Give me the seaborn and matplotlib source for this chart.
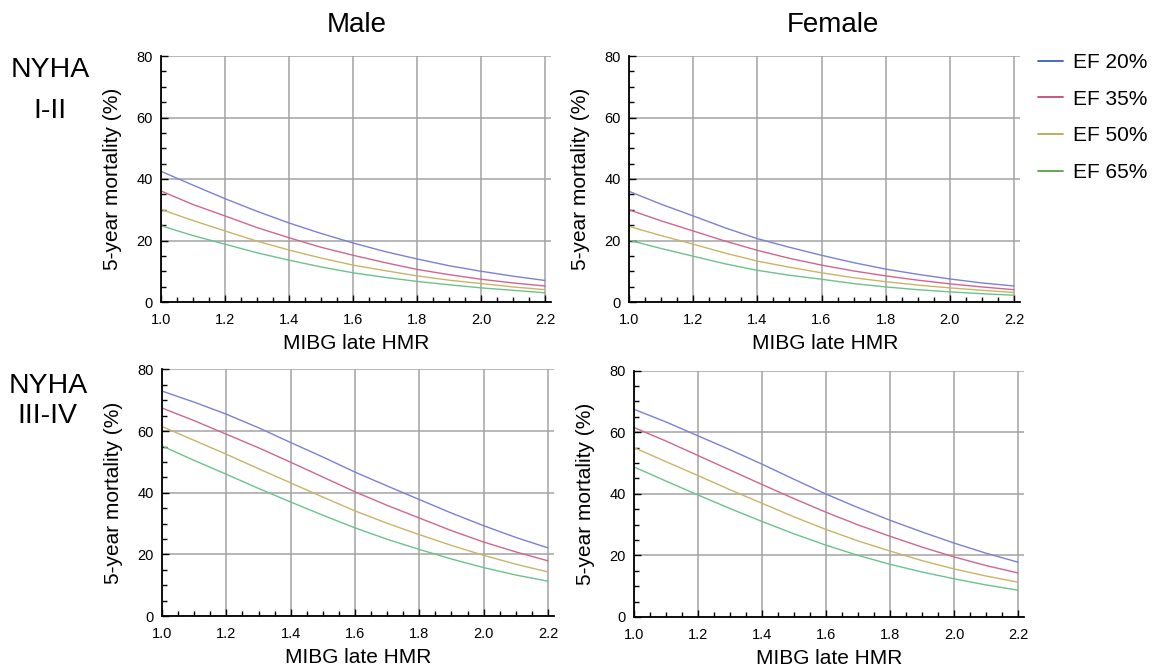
import matplotlib
matplotlib.use("Agg")
import matplotlib.pyplot as plt
import numpy as np
import pandas as pd
import seaborn as sns
from matplotlib.ticker import MultipleLocator, FormatStrFormatter
from matplotlib.lines import Line2D

# ---------------- data ----------------
hmr = [1.0, 1.1, 1.2, 1.3, 1.4, 1.5, 1.6, 1.7, 1.8, 1.9, 2.0, 2.1, 2.2]
ef_labels = ["EF 20%", "EF 35%", "EF 50%", "EF 65%"]
col_titles = ["Male", "Female"]
row_titles = ["NYHA\nI-II", "NYHA\nIII-IV"]

male_12_ef20 = [42.5, 38.0, 33.6, 29.5, 25.7, 22.3, 19.2, 16.4, 14.0, 11.8, 10.0, 8.4, 7.0]
male_12_ef35 = [36.1, 31.7, 28.0, 24.2, 20.9, 17.8, 15.2, 12.8, 10.6, 8.9, 7.4, 6.2, 5.2]
male_12_ef50 = [30.1, 26.5, 23.1, 19.8, 16.9, 14.3, 12.0, 10.2, 8.5, 7.1, 6.0, 4.9, 4.0]
male_12_ef65 = [24.8, 21.6, 18.8, 16.0, 13.6, 11.4, 9.5, 8.0, 6.7, 5.6, 4.6, 3.8, 3.0]

female_12_ef20 = [36.0, 31.8, 28.0, 24.1, 20.6, 17.8, 15.2, 12.8, 10.7, 9.0, 7.5, 6.2, 5.2]
female_12_ef35 = [30.0, 26.4, 23.1, 19.8, 16.8, 14.2, 12.0, 10.1, 8.5, 7.1, 5.9, 4.9, 4.0]
female_12_ef50 = [24.6, 21.6, 18.8, 15.9, 13.3, 11.3, 9.5, 7.9, 6.6, 5.5, 4.6, 3.8, 3.1]
female_12_ef65 = [20.1, 17.4, 14.9, 12.4, 10.3, 8.7, 7.4, 6.0, 4.9, 4.0, 3.3, 2.7, 2.2]

male_34_ef20 = [73.0, 69.4, 65.5, 61.1, 56.3, 51.6, 46.7, 42.2, 37.8, 33.4, 29.3, 25.5, 22.1]
male_34_ef35 = [67.5, 63.4, 59.0, 54.6, 49.9, 45.1, 40.3, 35.9, 31.8, 27.7, 24.0, 20.8, 17.9]
male_34_ef50 = [61.5, 57.0, 52.5, 47.8, 43.2, 38.6, 34.1, 30.1, 26.4, 22.9, 19.7, 16.8, 14.3]
male_34_ef65 = [55.2, 50.5, 46.0, 41.4, 37.0, 32.7, 28.6, 24.9, 21.6, 18.5, 15.7, 13.3, 11.3]

female_34_ef20 = [67.4, 63.3, 58.8, 54.3, 49.6, 44.7, 39.9, 35.5, 31.4, 27.6, 24.0, 20.7, 17.8]
female_34_ef35 = [61.5, 57.1, 52.4, 47.7, 43.0, 38.4, 34.0, 29.9, 26.2, 22.7, 19.5, 16.7, 14.3]
female_34_ef50 = [55.0, 50.4, 45.9, 41.3, 36.9, 32.5, 28.4, 24.7, 21.4, 18.3, 15.6, 13.3, 11.3]
female_34_ef65 = [48.7, 44.1, 39.6, 35.2, 31.0, 27.0, 23.3, 20.0, 17.1, 14.6, 12.4, 10.4, 8.7]

x_ticks = [1.0, 1.2, 1.4, 1.6, 1.8, 2.0, 2.2]
y_ticks = [0, 20, 40, 60, 80]

# ---------------- style ----------------
line_colors = ["#7b80d8", "#d0668f", "#c9b466", "#6cc28c"]
legend_colors = ["#3f5fc2", "#c44a74", "#b8aa52", "#5e9c4c"]

sns.set_style("white")
plt.rcParams["font.family"] = ["Liberation Sans", "DejaVu Sans"]
plt.rcParams["xtick.direction"] = "in"
plt.rcParams["ytick.direction"] = "in"
for key in ["text.color", "axes.labelcolor", "xtick.color", "ytick.color",
            "xtick.labelcolor", "ytick.labelcolor"]:
    plt.rcParams[key] = "black"

W, H = 1153, 670
fig = plt.figure(figsize=(W / 100, H / 100), dpi=100)


def make_axes(left, x22, top, bottom):
    width = (x22 - left) * 1.22 / 1.2
    return fig.add_axes([left / W, 1 - bottom / H, width / W, (bottom - top) / H])


panels = [
    (make_axes(161, 545, 56, 302), [male_12_ef20, male_12_ef35, male_12_ef50, male_12_ef65]),
    (make_axes(629, 1014, 56, 302), [female_12_ef20, female_12_ef35, female_12_ef50, female_12_ef65]),
    (make_axes(162, 548, 369.5, 616), [male_34_ef20, male_34_ef35, male_34_ef50, male_34_ef65]),
    (make_axes(634, 1018, 370.5, 617), [female_34_ef20, female_34_ef35, female_34_ef50, female_34_ef65]),
]

for ax, series in panels:
    frames = []
    for lab, vals in zip(ef_labels, series):
        frames.append(pd.DataFrame({"HMR": hmr, "Mortality": vals, "EF": lab}))
    df = pd.concat(frames, ignore_index=True)
    sns.lineplot(data=df, x="HMR", y="Mortality", hue="EF", hue_order=ef_labels,
                 palette=line_colors, linewidth=1.0, legend=False, ax=ax, zorder=3)
    ax.set_xlim(1.0, 2.22)
    ax.set_ylim(0, 80)
    ax.set_xticks(x_ticks)
    ax.set_yticks(y_ticks)
    ax.xaxis.set_major_formatter(FormatStrFormatter("%.1f"))
    ax.xaxis.set_minor_locator(MultipleLocator(0.05))
    ax.yaxis.set_minor_locator(MultipleLocator(5))
    ax.grid(True, which="major", color="#a3a3a3", linewidth=1.1, zorder=1)
    ax.set_axisbelow(True)
    for s in ["top", "right"]:
        ax.spines[s].set_visible(False)
    for s in ["left", "bottom"]:
        ax.spines[s].set_color("black")
        ax.spines[s].set_linewidth(1.3)
        ax.spines[s].set_zorder(4)
    ax.tick_params(which="both", direction="in", color="black", labelcolor="black",
                   width=1.0, labelsize=10.5, bottom=True, left=True, top=False, right=False)
    ax.tick_params(which="major", length=5)
    ax.tick_params(which="minor", length=3.5)
    ax.tick_params(axis="x", which="major", pad=8)
    ax.tick_params(axis="y", which="major", pad=6)
    ax.set_xlabel("MIBG late HMR", fontsize=15, labelpad=5, color="black")
    ax.set_ylabel("5-year mortality (%)", fontsize=15, labelpad=10, color="black")


def ftext(x, y, s, **kw):
    fig.text(x / W, 1 - y / H, s, color="black", **kw)


ftext(356.7, 32, col_titles[0], ha="center", va="baseline", fontsize=20)
ftext(833, 32, col_titles[1], ha="center", va="baseline", fontsize=20)

r1 = row_titles[0].split("\n")
r2 = row_titles[1].split("\n")
ftext(50, 77.3, r1[0], ha="center", va="baseline", fontsize=20.5)
ftext(50, 118, r1[1], ha="center", va="baseline", fontsize=20.5)
ftext(48, 392.7, r2[0], ha="center", va="baseline", fontsize=20.5)
ftext(47.5, 423.3, r2[1], ha="center", va="baseline", fontsize=20.5)

handles = [Line2D([0], [0], color=c, linewidth=1.3) for c in legend_colors]
leg = fig.legend(handles, ef_labels, loc="upper left",
                 bbox_to_anchor=(1038 / W, 1 - 53 / H), frameon=False,
                 fontsize=15, handlelength=1.2, handletextpad=0.48,
                 labelspacing=0.85, borderpad=0, borderaxespad=0)
for t in leg.get_texts():
    t.set_color("black")

fig.savefig("out.png", dpi=100)
